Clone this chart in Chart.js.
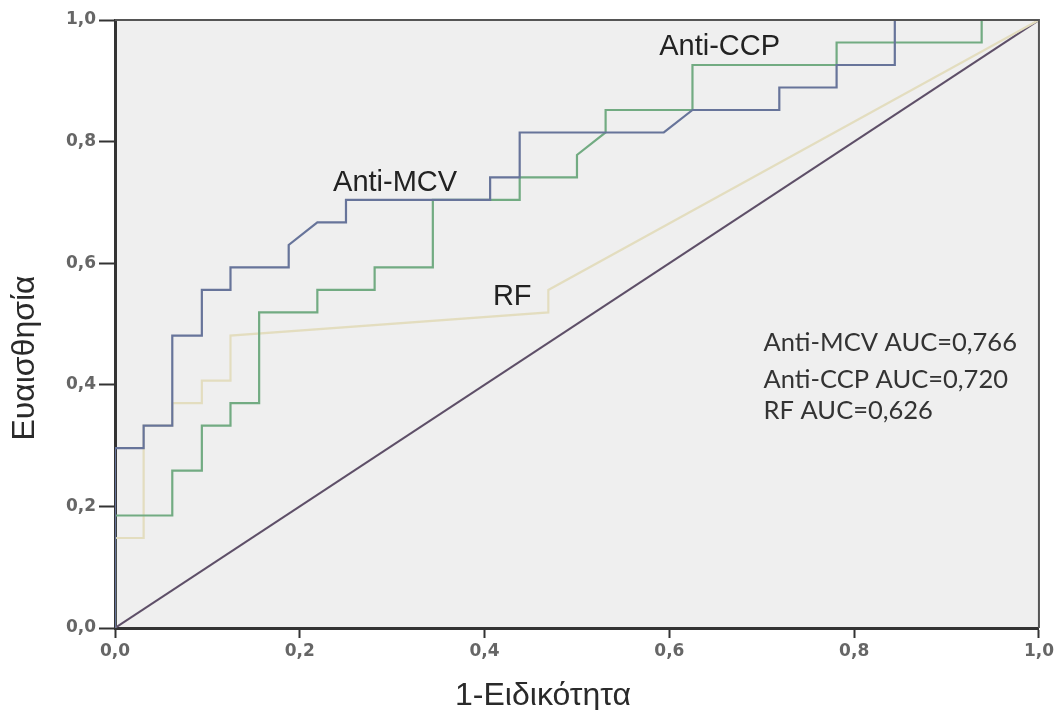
<!DOCTYPE html>
<html>
<head>
<meta charset="utf-8">
<script src="https://cdn.jsdelivr.net/npm/chart.js@4"></script>
<style>
html,body{margin:0;padding:0;background:#fff;}
canvas{display:block;}
</style>
</head>
<body>
<canvas id="c" width="1057" height="710"></canvas>
<script>
// ROC curves (1-Specificity vs Sensitivity)
const mcvFpr = [0,0,0.031,0.031,0.062,0.062,0.094,0.094,0.125,0.125,0.188,0.188,0.219,0.25,0.25,0.406,0.406,0.438,0.438,0.594,0.625,0.719,0.719,0.781,0.781,0.844,0.844,1];
const mcvTpr = [0,0.296,0.296,0.333,0.333,0.481,0.481,0.556,0.556,0.593,0.593,0.630,0.667,0.667,0.704,0.704,0.741,0.741,0.815,0.815,0.852,0.852,0.889,0.889,0.926,0.926,1,1];

const ccpFpr = [0,0,0.062,0.062,0.094,0.094,0.125,0.125,0.156,0.156,0.219,0.219,0.281,0.281,0.344,0.344,0.438,0.438,0.5,0.5,0.531,0.531,0.625,0.625,0.781,0.781,0.938,0.938,1];
const ccpTpr = [0,0.185,0.185,0.259,0.259,0.333,0.333,0.370,0.370,0.519,0.519,0.556,0.556,0.593,0.593,0.704,0.704,0.741,0.741,0.778,0.815,0.852,0.852,0.926,0.926,0.963,0.963,1,1];

const rfFpr = [0,0,0.031,0.031,0.062,0.062,0.094,0.094,0.125,0.125,0.469,0.469,1];
const rfTpr = [0,0.148,0.148,0.333,0.333,0.370,0.370,0.407,0.407,0.481,0.519,0.556,1];

const refFpr = [0,1];
const refTpr = [0,1];

const tickValues = [0,0.2,0.4,0.6,0.8,1.0];
const xTitle = '1-Ειδικότητα';
const yTitle = 'Ευαισθησία';

const curveNames = ['Anti-MCV','Anti-CCP','RF'];
const curveLabelX = [0.236,0.589,0.409];
const curveLabelY = [0.732,0.955,0.544];

const aucTexts = ['Anti-MCV AUC=0,766','Anti-CCP AUC=0,720','RF AUC=0,626'];
const aucX = 0.702;
const aucY = [0.469,0.408,0.357];

function pts(xs, ys){ return xs.map((x,i)=>({x:x,y:ys[i]})); }

const decor = {
  id:'decor',
  beforeDraw(chart){
    const {ctx, chartArea:a} = chart;
    ctx.save();
    ctx.fillStyle = '#efefef';
    ctx.fillRect(a.left, a.top, a.right-a.left, a.bottom-a.top);
    ctx.restore();
  },
  afterDraw(chart){
    const {ctx, chartArea:a, scales} = chart;
    ctx.save();
    ctx.strokeStyle = '#555';
    ctx.lineWidth = 2;
    ctx.beginPath();
    ctx.moveTo(a.left, a.top); ctx.lineTo(a.right, a.top); ctx.lineTo(a.right, a.bottom);
    ctx.stroke();
    // curve labels
    ctx.fillStyle = '#222';
    ctx.font = '29px "Liberation Sans", Arial, sans-serif';
    ctx.textBaseline = 'middle';
    ctx.textAlign = 'left';
    curveNames.forEach((t,i)=>{
      ctx.fillText(t, scales.x.getPixelForValue(curveLabelX[i]), scales.y.getPixelForValue(curveLabelY[i]));
    });
    // AUC texts
    ctx.fillStyle = '#333';
    ctx.font = '25.5px Lato, "Open Sans", sans-serif';
    aucTexts.forEach((t,i)=>{
      ctx.fillText(t, scales.x.getPixelForValue(aucX), scales.y.getPixelForValue(aucY[i]));
    });
    // axis titles
    ctx.fillStyle = '#2a2a2a';
    ctx.font = '32px "Liberation Sans", Arial, sans-serif';
    ctx.textAlign = 'center';
    ctx.fillText(xTitle, 543, 696);
    ctx.translate(25, 358);
    ctx.rotate(-Math.PI/2);
    ctx.fillText(yTitle, 0, 0);
    ctx.restore();
  }
};

const fmt = v => v.toFixed(1).replace('.', ',');
const tickFont = {family:'"DejaVu Sans", sans-serif', size:17, weight:'bold'};

new Chart(document.getElementById('c'), {
  type:'scatter',
  data:{
    datasets:[
      {label:'Anti-MCV', data:pts(mcvFpr, mcvTpr), showLine:true, borderColor:'#67749a', borderWidth:2.2, pointRadius:0, order:1},
      {label:'Anti-CCP', data:pts(ccpFpr, ccpTpr), showLine:true, borderColor:'#72ab82', borderWidth:2.2, pointRadius:0, order:2},
      {label:'RF', data:pts(rfFpr, rfTpr), showLine:true, borderColor:'#e3ddbf', borderWidth:2.2, pointRadius:0, order:3},
      {label:'Reference', data:pts(refFpr, refTpr), showLine:true, borderColor:'#5e4f68', borderWidth:2, pointRadius:0, order:4}
    ]
  },
  options:{
    responsive:false,
    devicePixelRatio:1,
    animation:false,
    layout:{padding:{left:0, right:17, top:20, bottom:0}},
    plugins:{legend:{display:false}, tooltip:{enabled:false}},
    scales:{
      x:{
        type:'linear', min:0, max:1,
        afterFit(s){ s.height = 82; },
        afterBuildTicks(s){ s.ticks = tickValues.map(v=>({value:v})); },
        grid:{drawOnChartArea:false, drawTicks:true, tickLength:10, tickColor:'#333', tickWidth:2},
        border:{display:true, color:'#333', width:3},
        ticks:{callback:fmt, color:'#666', font:tickFont, padding:3, maxRotation:0}
      },
      y:{
        type:'linear', min:0, max:1,
        afterFit(s){ s.width = 115; },
        afterBuildTicks(s){ s.ticks = tickValues.map(v=>({value:v})); },
        grid:{drawOnChartArea:false, drawTicks:true, tickLength:16, tickColor:'#333', tickWidth:2},
        border:{display:true, color:'#333', width:3},
        ticks:{callback:fmt, color:'#666', font:tickFont, padding:3}
      }
    }
  },
  plugins:[decor]
});
</script>
</body>
</html>
